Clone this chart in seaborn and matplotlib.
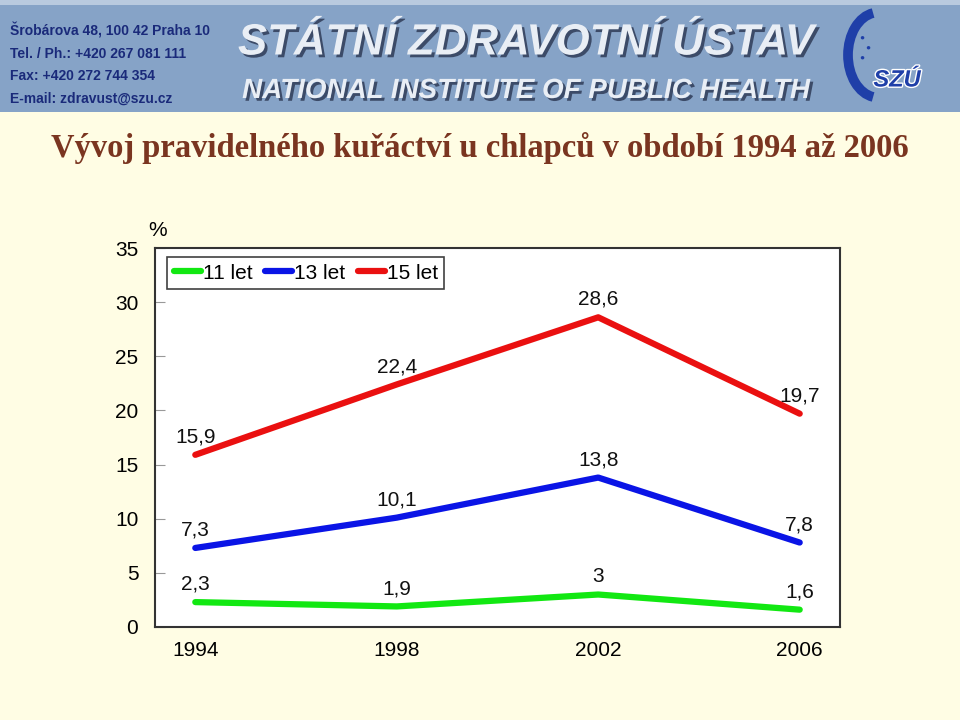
import matplotlib
matplotlib.use("Agg")
import matplotlib.pyplot as plt
import seaborn as sns
import pandas as pd
from matplotlib.patches import Rectangle, Arc
import matplotlib.patheffects as pe

# ---- data ----
years = [1994, 1998, 2002, 2006]
series_names = ["11 let", "13 let", "15 let"]
vals_11 = [2.3, 1.9, 3.0, 1.6]
vals_13 = [7.3, 10.1, 13.8, 7.8]
vals_15 = [15.9, 22.4, 28.6, 19.7]
y_ticks = [0, 5, 10, 15, 20, 25, 30, 35]
title = "Vývoj pravidelného kuřáctví u chlapců v období 1994 až 2006"
colors = ["#12E812", "#0A14E6", "#EA1010"]

rows = []
for name, vals in zip(series_names, [vals_11, vals_13, vals_15]):
    for x, v in zip(years, vals):
        rows.append({"Rok": x, "Hodnota": v, "Věk": name})
df = pd.DataFrame(rows)

sns.set_theme(style="white")
plt.rcParams["font.family"] = ["Liberation Sans", "DejaVu Sans"]

fig = plt.figure(figsize=(9.6, 7.2), dpi=100)
fig.patch.set_facecolor("#FFFDE4")

# banner
fig.patches.append(Rectangle((0, 0.845), 1, 0.155, transform=fig.transFigure,
                             facecolor="#86A3C7", edgecolor="none", zorder=0))
fig.patches.append(Rectangle((0, 0.993), 1, 0.007, transform=fig.transFigure,
                             facecolor="#B9CADF", edgecolor="none", zorder=0))
addr = ["Šrobárova 48, 100 42 Praha 10", "Tel. / Ph.: +420 267 081 111",
        "Fax: +420 272 744 354", "E-mail: zdravust@szu.cz"]
for i, line in enumerate(addr):
    fig.text(10 / 960, 1 - (31 + i * 22.5) / 720, line, fontsize=10,
             fontweight="bold", color="#1A2A7A", va="center", ha="left")
shadow = [pe.withSimplePatchShadow(offset=(2, -2), shadow_rgbFace="#2A3550", alpha=0.8)]
fig.text(526 / 960, 1 - 43 / 720, "STÁTNÍ ZDRAVOTNÍ ÚSTAV", fontsize=31.5,
         fontweight="bold", style="italic", color="#E9EEF5", ha="center",
         va="center", path_effects=shadow)
fig.text(526 / 960, 1 - 91 / 720, "NATIONAL INSTITUTE OF PUBLIC HEALTH", fontsize=20,
         fontweight="bold", style="italic", color="#E9EEF5", ha="center",
         va="center", path_effects=shadow)
# logo
fig.patches.append(Arc((878 / 960, 1 - 55 / 720), 60 / 960, 85 / 720,
                       theta1=95, theta2=265, transform=fig.transFigure,
                       edgecolor="#1F3FA8", linewidth=7, zorder=1))
for dx, dy in [(862, 38), (868, 48), (862, 58)]:
    fig.text(dx / 960, 1 - dy / 720, "●", fontsize=6, color="#1F3FA8",
             ha="center", va="center")
fig.text(897 / 960, 1 - 80 / 720, "SZÚ", fontsize=17, fontweight="bold",
         style="italic", color="#1F3FA8", ha="center", va="center",
         path_effects=[pe.withStroke(linewidth=2, foreground="white")])

# title
fig.text(0.5, 1 - 148 / 720, title, fontsize=23.5, color="#7A3520",
         fontweight="bold", ha="center", va="center",
         family=["Liberation Serif", "DejaVu Serif"])

ax = fig.add_axes([155 / 960, 1 - 627 / 720, 685 / 960, 379 / 720])
ax.set_facecolor("white")
sns.lineplot(data=df, x="Rok", y="Hodnota", hue="Věk", palette=colors,
             linewidth=4.5, ax=ax, legend=True)
for line in ax.get_lines():
    line.set_solid_capstyle("round")

for name, vals in zip(series_names, [vals_11, vals_13, vals_15]):
    for x, v in zip(years, vals):
        lab = ("%g" % v).replace(".", ",")
        ax.annotate(lab, (x, v), xytext=(0, 6), textcoords="offset points",
                    ha="center", va="bottom", fontsize=15, color="#111111")

ax.set_xlim(1993.2, 2006.8)
ax.set_ylim(0, 35)
ax.set_xticks(years)
ax.set_xticklabels([str(y) for y in years])
ax.set_yticks(y_ticks)
ax.set_xlabel("")
ax.set_ylabel("")
ax.tick_params(axis="y", direction="in", length=7, width=0.8, color="#999999",
               labelsize=15, pad=12, left=True, labelcolor="black")
ax.tick_params(axis="x", length=0, labelsize=15, pad=10, labelcolor="black")
for s in ax.spines.values():
    s.set_color("#333333")
    s.set_linewidth(1.5)

ax.text(-0.01, 1.045, "%", transform=ax.transAxes, fontsize=15, ha="left",
        va="center", color="black")

leg = ax.legend(loc="upper left", bbox_to_anchor=(0.018, 0.975), ncol=3,
                frameon=True, fancybox=False, fontsize=15, handlelength=1.3,
                handletextpad=0.1, columnspacing=0.6, borderpad=0.3,
                borderaxespad=0)
leg.get_frame().set_edgecolor("#111111")
leg.get_frame().set_linewidth(1.2)
for t in leg.get_texts():
    t.set_color("black")
for h in leg.get_lines():
    h.set_linewidth(4.5)
    h.set_solid_capstyle("round")

fig.savefig("out.png", dpi=100, facecolor=fig.get_facecolor())
